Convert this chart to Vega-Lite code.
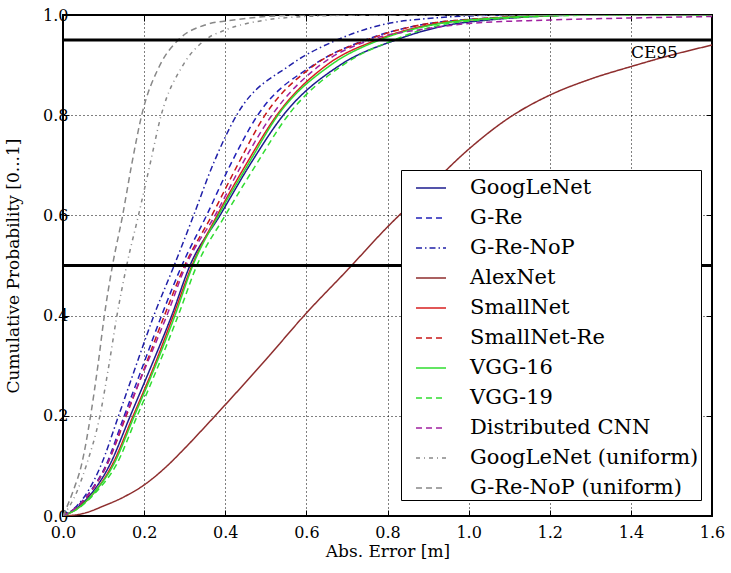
{
  "$schema": "https://vega.github.io/schema/vega-lite/v6.json",
  "width": 649,
  "height": 501,
  "autosize": {"type": "none"},
  "padding": {"left": 63, "top": 15, "right": 19, "bottom": 57},
  "background": "white",
  "config": {
    "view": {"stroke": "black", "strokeWidth": 2},
    "font": "DejaVu Serif, Liberation Serif, serif",
    "text": {"font": "DejaVu Serif, Liberation Serif, serif"},
    "axis": {
      "labelFont": "DejaVu Serif, Liberation Serif, serif", "titleFont": "DejaVu Serif, Liberation Serif, serif",
      "labelColor": "black", "titleColor": "black", "titleFontWeight": "normal",
      "labelFontSize": 16, "titleFontSize": 17,
      "tickColor": "black", "tickSize": -6, "tickWidth": 1,
      "domain": false, "labelFlush": false, "labelOverlap": false
    },
    "legend": {"labelFont": "DejaVu Serif, Liberation Serif, serif"}
  },
  "datasets": {
    "curves": [
      {"m":"GoogLeNet","x":0,"y":0},{"m":"GoogLeNet","x":0.04,"y":0.02},{"m":"GoogLeNet","x":0.075,"y":0.05},{"m":"GoogLeNet","x":0.114,"y":0.1},{"m":"GoogLeNet","x":0.166,"y":0.2},{"m":"GoogLeNet","x":0.218,"y":0.3},{"m":"GoogLeNet","x":0.268,"y":0.4},{"m":"GoogLeNet","x":0.313,"y":0.5},{"m":"GoogLeNet","x":0.387,"y":0.6},{"m":"GoogLeNet","x":0.46,"y":0.7},{"m":"GoogLeNet","x":0.543,"y":0.8},{"m":"GoogLeNet","x":0.683,"y":0.9},{"m":"GoogLeNet","x":0.82,"y":0.95},{"m":"GoogLeNet","x":0.95,"y":0.98},{"m":"GoogLeNet","x":1.05,"y":0.99},{"m":"GoogLeNet","x":1.3,"y":1.0},{"m":"GoogLeNet","x":1.6,"y":1.0},
      {"m":"G-Re","x":0,"y":0},{"m":"G-Re","x":0.036,"y":0.02},{"m":"G-Re","x":0.068,"y":0.05},{"m":"G-Re","x":0.105,"y":0.1},{"m":"G-Re","x":0.151,"y":0.2},{"m":"G-Re","x":0.197,"y":0.3},{"m":"G-Re","x":0.243,"y":0.4},{"m":"G-Re","x":0.293,"y":0.5},{"m":"G-Re","x":0.354,"y":0.6},{"m":"G-Re","x":0.412,"y":0.7},{"m":"G-Re","x":0.48,"y":0.8},{"m":"G-Re","x":0.617,"y":0.9},{"m":"G-Re","x":0.745,"y":0.95},{"m":"G-Re","x":0.88,"y":0.98},{"m":"G-Re","x":0.98,"y":0.99},{"m":"G-Re","x":1.3,"y":1.0},{"m":"G-Re","x":1.6,"y":1.0},
      {"m":"G-Re-NoP","x":0,"y":0},{"m":"G-Re-NoP","x":0.034,"y":0.02},{"m":"G-Re-NoP","x":0.062,"y":0.05},{"m":"G-Re-NoP","x":0.093,"y":0.1},{"m":"G-Re-NoP","x":0.137,"y":0.2},{"m":"G-Re-NoP","x":0.18,"y":0.3},{"m":"G-Re-NoP","x":0.224,"y":0.4},{"m":"G-Re-NoP","x":0.274,"y":0.5},{"m":"G-Re-NoP","x":0.322,"y":0.6},{"m":"G-Re-NoP","x":0.369,"y":0.7},{"m":"G-Re-NoP","x":0.428,"y":0.8},{"m":"G-Re-NoP","x":0.56,"y":0.9},{"m":"G-Re-NoP","x":0.675,"y":0.95},{"m":"G-Re-NoP","x":0.8,"y":0.983},{"m":"G-Re-NoP","x":0.9,"y":0.993},{"m":"G-Re-NoP","x":1.1,"y":1.0},{"m":"G-Re-NoP","x":1.6,"y":1.0},
      {"m":"AlexNet","x":0,"y":0},{"m":"AlexNet","x":0.05,"y":0.005},{"m":"AlexNet","x":0.1,"y":0.02},{"m":"AlexNet","x":0.15,"y":0.038},{"m":"AlexNet","x":0.2,"y":0.062},{"m":"AlexNet","x":0.25,"y":0.095},{"m":"AlexNet","x":0.3,"y":0.135},{"m":"AlexNet","x":0.35,"y":0.178},{"m":"AlexNet","x":0.4,"y":0.222},{"m":"AlexNet","x":0.5,"y":0.312},{"m":"AlexNet","x":0.6,"y":0.405},{"m":"AlexNet","x":0.7,"y":0.49},{"m":"AlexNet","x":0.8,"y":0.577},{"m":"AlexNet","x":0.9,"y":0.655},{"m":"AlexNet","x":1.0,"y":0.732},{"m":"AlexNet","x":1.1,"y":0.795},{"m":"AlexNet","x":1.2,"y":0.84},{"m":"AlexNet","x":1.3,"y":0.872},{"m":"AlexNet","x":1.4,"y":0.897},{"m":"AlexNet","x":1.5,"y":0.92},{"m":"AlexNet","x":1.6,"y":0.94},
      {"m":"SmallNet","x":0,"y":0},{"m":"SmallNet","x":0.044,"y":0.02},{"m":"SmallNet","x":0.08,"y":0.05},{"m":"SmallNet","x":0.12,"y":0.1},{"m":"SmallNet","x":0.173,"y":0.2},{"m":"SmallNet","x":0.225,"y":0.3},{"m":"SmallNet","x":0.272,"y":0.4},{"m":"SmallNet","x":0.318,"y":0.5},{"m":"SmallNet","x":0.38,"y":0.6},{"m":"SmallNet","x":0.45,"y":0.7},{"m":"SmallNet","x":0.527,"y":0.8},{"m":"SmallNet","x":0.65,"y":0.9},{"m":"SmallNet","x":0.773,"y":0.95},{"m":"SmallNet","x":0.9,"y":0.98},{"m":"SmallNet","x":1.0,"y":0.99},{"m":"SmallNet","x":1.3,"y":1.0},{"m":"SmallNet","x":1.6,"y":1.0},
      {"m":"SmallNet-Re","x":0,"y":0},{"m":"SmallNet-Re","x":0.038,"y":0.02},{"m":"SmallNet-Re","x":0.07,"y":0.05},{"m":"SmallNet-Re","x":0.107,"y":0.1},{"m":"SmallNet-Re","x":0.156,"y":0.2},{"m":"SmallNet-Re","x":0.203,"y":0.3},{"m":"SmallNet-Re","x":0.25,"y":0.4},{"m":"SmallNet-Re","x":0.3,"y":0.5},{"m":"SmallNet-Re","x":0.367,"y":0.6},{"m":"SmallNet-Re","x":0.43,"y":0.7},{"m":"SmallNet-Re","x":0.498,"y":0.8},{"m":"SmallNet-Re","x":0.62,"y":0.9},{"m":"SmallNet-Re","x":0.749,"y":0.95},{"m":"SmallNet-Re","x":0.88,"y":0.98},{"m":"SmallNet-Re","x":0.98,"y":0.99},{"m":"SmallNet-Re","x":1.3,"y":1.0},{"m":"SmallNet-Re","x":1.6,"y":1.0},
      {"m":"VGG-16","x":0,"y":0},{"m":"VGG-16","x":0.044,"y":0.02},{"m":"VGG-16","x":0.08,"y":0.05},{"m":"VGG-16","x":0.123,"y":0.1},{"m":"VGG-16","x":0.176,"y":0.2},{"m":"VGG-16","x":0.228,"y":0.3},{"m":"VGG-16","x":0.276,"y":0.4},{"m":"VGG-16","x":0.32,"y":0.5},{"m":"VGG-16","x":0.383,"y":0.6},{"m":"VGG-16","x":0.455,"y":0.7},{"m":"VGG-16","x":0.53,"y":0.8},{"m":"VGG-16","x":0.66,"y":0.9},{"m":"VGG-16","x":0.78,"y":0.95},{"m":"VGG-16","x":0.91,"y":0.98},{"m":"VGG-16","x":1.0,"y":0.99},{"m":"VGG-16","x":1.3,"y":1.0},{"m":"VGG-16","x":1.6,"y":1.0},
      {"m":"VGG-19","x":0,"y":0},{"m":"VGG-19","x":0.046,"y":0.02},{"m":"VGG-19","x":0.084,"y":0.05},{"m":"VGG-19","x":0.13,"y":0.1},{"m":"VGG-19","x":0.183,"y":0.2},{"m":"VGG-19","x":0.235,"y":0.3},{"m":"VGG-19","x":0.284,"y":0.4},{"m":"VGG-19","x":0.33,"y":0.5},{"m":"VGG-19","x":0.4,"y":0.6},{"m":"VGG-19","x":0.475,"y":0.7},{"m":"VGG-19","x":0.555,"y":0.8},{"m":"VGG-19","x":0.69,"y":0.9},{"m":"VGG-19","x":0.815,"y":0.95},{"m":"VGG-19","x":0.93,"y":0.98},{"m":"VGG-19","x":1.03,"y":0.99},{"m":"VGG-19","x":1.35,"y":1.0},{"m":"VGG-19","x":1.6,"y":1.0},
      {"m":"Distributed CNN","x":0,"y":0},{"m":"Distributed CNN","x":0.037,"y":0.02},{"m":"Distributed CNN","x":0.069,"y":0.05},{"m":"Distributed CNN","x":0.107,"y":0.1},{"m":"Distributed CNN","x":0.154,"y":0.2},{"m":"Distributed CNN","x":0.205,"y":0.3},{"m":"Distributed CNN","x":0.256,"y":0.4},{"m":"Distributed CNN","x":0.303,"y":0.5},{"m":"Distributed CNN","x":0.375,"y":0.6},{"m":"Distributed CNN","x":0.44,"y":0.7},{"m":"Distributed CNN","x":0.515,"y":0.8},{"m":"Distributed CNN","x":0.634,"y":0.9},{"m":"Distributed CNN","x":0.757,"y":0.95},{"m":"Distributed CNN","x":0.9,"y":0.973},{"m":"Distributed CNN","x":1.0,"y":0.983},{"m":"Distributed CNN","x":1.2,"y":0.99},{"m":"Distributed CNN","x":1.4,"y":0.994},{"m":"Distributed CNN","x":1.6,"y":0.997},
      {"m":"GoogLeNet (uniform)","x":0,"y":0},{"m":"GoogLeNet (uniform)","x":0.035,"y":0.05},{"m":"GoogLeNet (uniform)","x":0.057,"y":0.1},{"m":"GoogLeNet (uniform)","x":0.091,"y":0.2},{"m":"GoogLeNet (uniform)","x":0.113,"y":0.3},{"m":"GoogLeNet (uniform)","x":0.133,"y":0.4},{"m":"GoogLeNet (uniform)","x":0.157,"y":0.5},{"m":"GoogLeNet (uniform)","x":0.186,"y":0.6},{"m":"GoogLeNet (uniform)","x":0.214,"y":0.7},{"m":"GoogLeNet (uniform)","x":0.242,"y":0.8},{"m":"GoogLeNet (uniform)","x":0.296,"y":0.9},{"m":"GoogLeNet (uniform)","x":0.35,"y":0.95},{"m":"GoogLeNet (uniform)","x":0.4,"y":0.97},{"m":"GoogLeNet (uniform)","x":0.5,"y":0.99},{"m":"GoogLeNet (uniform)","x":0.6,"y":0.997},{"m":"GoogLeNet (uniform)","x":0.75,"y":1.0},{"m":"GoogLeNet (uniform)","x":1.6,"y":1.0},
      {"m":"G-Re-NoP (uniform)","x":0,"y":0},{"m":"G-Re-NoP (uniform)","x":0.025,"y":0.05},{"m":"G-Re-NoP (uniform)","x":0.045,"y":0.1},{"m":"G-Re-NoP (uniform)","x":0.068,"y":0.2},{"m":"G-Re-NoP (uniform)","x":0.086,"y":0.3},{"m":"G-Re-NoP (uniform)","x":0.102,"y":0.4},{"m":"G-Re-NoP (uniform)","x":0.122,"y":0.5},{"m":"G-Re-NoP (uniform)","x":0.147,"y":0.6},{"m":"G-Re-NoP (uniform)","x":0.169,"y":0.7},{"m":"G-Re-NoP (uniform)","x":0.194,"y":0.8},{"m":"G-Re-NoP (uniform)","x":0.239,"y":0.9},{"m":"G-Re-NoP (uniform)","x":0.284,"y":0.95},{"m":"G-Re-NoP (uniform)","x":0.35,"y":0.98},{"m":"G-Re-NoP (uniform)","x":0.42,"y":0.99},{"m":"G-Re-NoP (uniform)","x":0.6,"y":1.0},{"m":"G-Re-NoP (uniform)","x":1.6,"y":1.0}
    ],
    "refs": [{"y": 0.5}, {"y": 0.95}],
    "labels": [{"x": 1.4, "y": 0.914, "t": "CE95"}]
  },
  "resolve": {"axis": {"x": "independent", "y": "independent"}},
  "layer": [
    {
      "data": {"name": "curves"},
      "mark": {"type": "line", "strokeWidth": 1.5, "interpolate": "monotone", "clip": true},
      "encoding": {
        "x": {"field": "x", "type": "quantitative",
              "scale": {"domain": [0, 1.6], "nice": false, "zero": false},
              "axis": {"title": "Abs. Error [m]", "values": [0, 0.2, 0.4, 0.6, 0.8, 1.0, 1.2, 1.4, 1.6], "format": ".1f",
                       "grid": true, "gridColor": "black", "gridDash": [1, 3], "gridOpacity": 1, "gridWidth": 1,
                       "labelPadding": 14, "titlePadding": 3, "titleFontSize": 17}},
        "y": {"field": "y", "type": "quantitative",
              "scale": {"domain": [0, 1], "nice": false},
              "axis": {"title": "Cumulative Probability [0...1]", "values": [0, 0.2, 0.4, 0.6, 0.8, 1.0], "format": ".1f",
                       "grid": true, "gridColor": "black", "gridDash": [1, 3], "gridOpacity": 1, "gridWidth": 1,
                       "labelPadding": 1, "titlePadding": 20, "titleFontSize": 17}},
        "color": {"field": "m", "type": "nominal",
                  "scale": {"domain": ["GoogLeNet","G-Re","G-Re-NoP","AlexNet","SmallNet","SmallNet-Re","VGG-16","VGG-19","Distributed CNN","GoogLeNet (uniform)","G-Re-NoP (uniform)"],
                            "range": ["#1c1c8e","#2020b8","#2020a8","#8e2e2e","#d82020","#c81818","#30dd30","#30dd30","#a020a0","#888888","#888888"]},
                  "legend": {"title": null, "orient": "none", "legendX": 338, "legendY": 155, "fillColor": "white", "strokeColor": "black",
                             "padding": 2, "symbolType": "stroke", "symbolSize": 900, "symbolStrokeWidth": 1.5, "symbolOffset": 12,
                             "labelOffset": 23, "labelFontSize": 21, "labelColor": "black", "rowPadding": 4, "labelLimit": 400}},
        "strokeDash": {"field": "m", "type": "nominal",
                  "scale": {"domain": ["GoogLeNet","G-Re","G-Re-NoP","AlexNet","SmallNet","SmallNet-Re","VGG-16","VGG-19","Distributed CNN","GoogLeNet (uniform)","G-Re-NoP (uniform)"],
                            "range": [[1,0],[6,4],[6,3,1.5,3],[1,0],[1,0],[6,4],[1,0],[6,4],[6,4],[4,4,1,4],[6,4]]},
                  "legend": {"title": null, "orient": "none", "legendX": 338, "legendY": 155, "fillColor": "white", "strokeColor": "black",
                             "padding": 2, "symbolType": "stroke", "symbolSize": 900, "symbolStrokeWidth": 1.5, "symbolOffset": 12,
                             "labelOffset": 23, "labelFontSize": 21, "labelColor": "black", "rowPadding": 4, "labelLimit": 400}}
      }
    },
    {
      "data": {"name": "refs"},
      "mark": {"type": "rule", "color": "black", "strokeWidth": 3},
      "encoding": {"y": {"field": "y", "type": "quantitative", "axis": null}}
    },
    {
      "data": {"name": "labels"},
      "mark": {"type": "text", "align": "left", "baseline": "alphabetic", "fontSize": 17, "color": "black"},
      "encoding": {
        "x": {"field": "x", "type": "quantitative",
              "axis": {"orient": "top", "title": null, "labels": false, "grid": false, "values": [0, 0.2, 0.4, 0.6, 0.8, 1.0, 1.2, 1.4, 1.6]}},
        "y": {"field": "y", "type": "quantitative",
              "axis": {"orient": "right", "title": null, "labels": false, "grid": false, "values": [0, 0.2, 0.4, 0.6, 0.8, 1.0]}},
        "text": {"field": "t"}
      }
    }
  ]
}
